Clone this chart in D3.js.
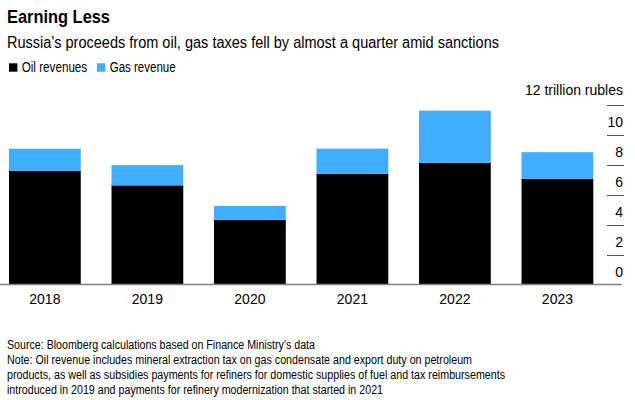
<!DOCTYPE html>
<html>
<head>
<meta charset="utf-8">
<script src="https://cdn.jsdelivr.net/npm/d3@7"></script>
<style>
  html, body { margin: 0; padding: 0; background: #fff; }
  svg { display: block; font-family: "Liberation Sans", Arial, sans-serif; }
</style>
</head>
<body>
<svg id="chart" width="635" height="400"></svg>
<script>
const years = ["2018", "2019", "2020", "2021", "2022", "2023"];
const oilRevenues = [7.59, 6.61, 4.32, 7.39, 8.12, 7.05];
const gasRevenue = [1.46, 1.35, 0.92, 1.67, 3.47, 1.77];
const yTicks = [0, 2, 4, 6, 8, 10, 12];
const seriesNames = ["Oil revenues", "Gas revenue"];
const seriesColors = ["#000000", "#40aeff"];

const rows = years.map((y, i) => ({ year: y, oil: oilRevenues[i], gas: gasRevenue[i] }));
const stack = d3.stack().keys(["oil", "gas"])(rows);

const svg = d3.select("#chart");

const x = d3.scaleBand().domain(years).range([9, 593.3]).paddingInner(0.3).paddingOuter(0);
const y = d3.scaleLinear().domain([0, 12]).range([284.5, 104.5]);

function fit(sel, w) {
  return sel.attr("textLength", w).attr("lengthAdjust", "spacingAndGlyphs");
}

// Title and subtitle
fit(svg.append("text").attr("x", 7).attr("y", 23).attr("font-size", 18.5).attr("font-weight", "bold")
  .attr("fill", "#000").text("Earning Less"), 103);
fit(svg.append("text").attr("x", 7).attr("y", 47.5).attr("font-size", 16).attr("fill", "#000")
  .text("Russia's proceeds from oil, gas taxes fell by almost a quarter amid sanctions"), 492);

// Legend
const legendX = [9, 97];
const legendW = [65.5, 66];
seriesNames.forEach((n, i) => {
  svg.append("rect").attr("x", legendX[i]).attr("y", 63.3).attr("width", 8.4).attr("height", 8.4)
    .attr("fill", seriesColors[i]);
  fit(svg.append("text").attr("x", legendX[i] + 12.7).attr("y", 72).attr("font-size", 14).attr("fill", "#000")
    .text(n), legendW[i]);
});

// Y axis on right: tick lines with labels above
const yg = svg.append("g");
yg.selectAll("line").data(yTicks.filter(t => t > 0)).join("line")
  .attr("x1", 607).attr("x2", 624)
  .attr("y1", d => Math.round(y(d)) + 0.5).attr("y2", d => Math.round(y(d)) + 0.5)
  .attr("stroke", "#555").attr("stroke-width", 1);
yg.selectAll("text").data(yTicks).join("text")
  .attr("x", 623).attr("y", d => y(d) - (d === 12 ? 9.5 : 8))
  .attr("text-anchor", "end").attr("font-size", 14).attr("fill", "#000")
  .text(d => d === 12 ? "12 trillion rubles" : d);

// Bars
svg.append("g").selectAll("g").data(stack).join("g")
  .attr("fill", (d, i) => seriesColors[i])
  .selectAll("rect").data(d => d).join("rect")
  .attr("x", d => x(d.data.year))
  .attr("width", x.bandwidth())
  .attr("y", d => y(d[1]))
  .attr("height", d => y(d[0]) - y(d[1]));

// Baseline
svg.append("line").attr("x1", 0).attr("x2", 622).attr("y1", 284.5).attr("y2", 284.5)
  .attr("stroke", "#808080").attr("stroke-width", 1.5);

// X labels
svg.append("g").selectAll("text").data(years).join("text")
  .attr("x", d => x(d) + x.bandwidth() / 2).attr("y", 303.5)
  .attr("text-anchor", "middle").attr("font-size", 14).attr("fill", "#000")
  .text(d => d);

// Footer
const footer = [
  "Source: Bloomberg calculations based on Finance Ministry\u2019s data",
  "Note: Oil revenue includes mineral extraction tax on gas condensate and export duty on petroleum",
  "products, as well as subsidies payments for refiners for domestic supplies of fuel and tax reimbursements",
  "introduced in 2019 and payments for refinery modernization that started in 2021"
];
const footerW = [308, 465, 498, 376];
svg.append("g").selectAll("text").data(footer).join("text")
  .attr("x", 7).attr("y", (d, i) => 348.5 + i * 15.2)
  .attr("font-size", 12.5).attr("fill", "#000")
  .attr("textLength", (d, i) => footerW[i]).attr("lengthAdjust", "spacingAndGlyphs")
  .text(d => d);
</script>
</body>
</html>
